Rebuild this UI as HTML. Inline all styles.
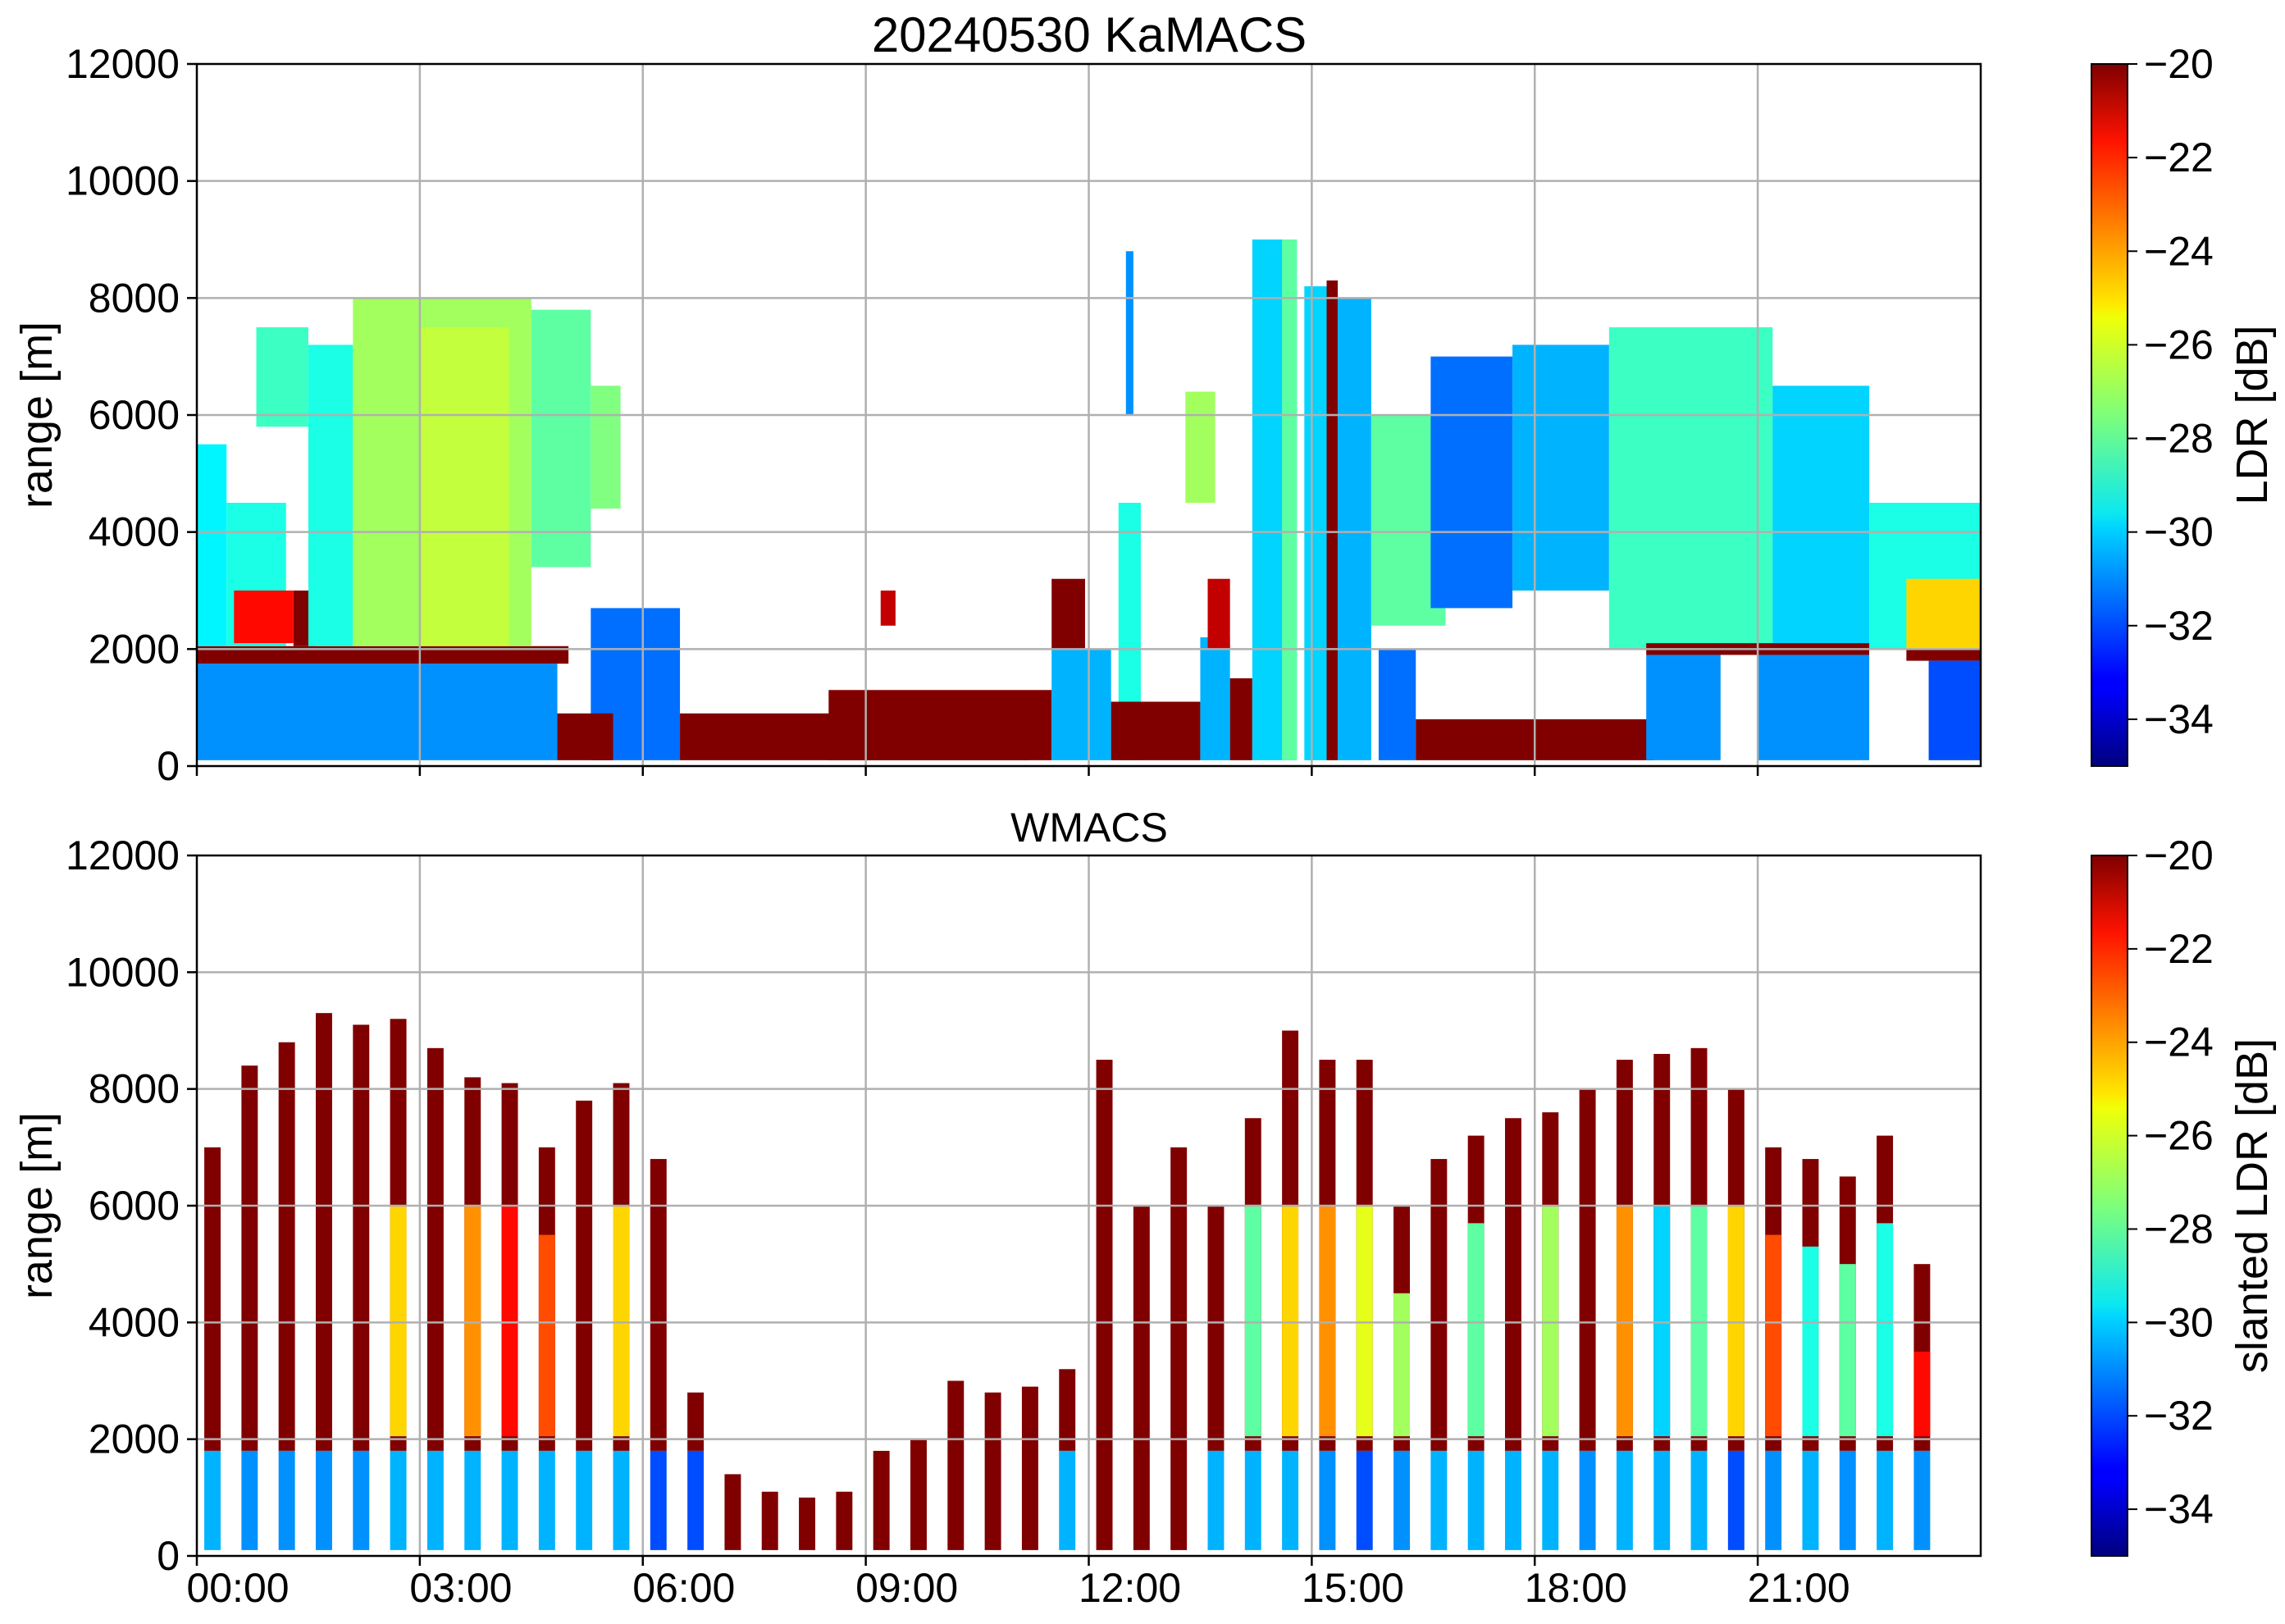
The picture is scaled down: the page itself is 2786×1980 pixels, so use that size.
<!DOCTYPE html>
<html><head><meta charset="utf-8"><title>20240530 KaMACS / WMACS</title>
<style>
html,body{margin:0;padding:0;background:#fff;}
svg{display:block;font-family:"Liberation Sans","DejaVu Sans",sans-serif;}
</style></head>
<body>
<svg id="fig" xmlns="http://www.w3.org/2000/svg" width="2786" height="1980" viewBox="0 0 2786 1980">
<defs>
<linearGradient id="jet" x1="0" y1="1" x2="0" y2="0">
<stop offset="0" stop-color="#00007f"/><stop offset="0.11" stop-color="#0000ff"/>
<stop offset="0.125" stop-color="#0000ff"/><stop offset="0.34" stop-color="#00d4ff"/>
<stop offset="0.36" stop-color="#0ce8f0"/><stop offset="0.5" stop-color="#7dff7a"/>
<stop offset="0.64" stop-color="#f0ff07"/><stop offset="0.66" stop-color="#ffe600"/>
<stop offset="0.89" stop-color="#ff1300"/><stop offset="1" stop-color="#7f0000"/>
</linearGradient>
</defs>
<g id="top-data"></g>
<g id="bot-data"></g>
<g id="axes"></g>
<text x="1328" y="63" font-size="60" text-anchor="middle">20240530 KaMACS</text>
<text x="1328" y="1026" font-size="50" text-anchor="middle">WMACS</text>
<text transform="translate(63,506) rotate(-90)" font-size="54" text-anchor="middle">range [m]</text>
<text transform="translate(63,1470) rotate(-90)" font-size="54" text-anchor="middle">range [m]</text>
<text transform="translate(2764,506) rotate(-90)" font-size="54" text-anchor="middle">LDR [dB]</text>
<text transform="translate(2764,1470) rotate(-90)" font-size="54" text-anchor="middle">slanted LDR [dB]</text>
</svg>
<script>
// ---- data ----
const yTicks = [0, 2000, 4000, 6000, 8000, 10000, 12000];
const xTickHours = [0, 3, 6, 9, 12, 15, 18, 21];
const xTickLabels = ["00:00","03:00","06:00","09:00","12:00","15:00","18:00","21:00"];
const cbTicks = [-20, -22, -24, -26, -28, -30, -32, -34];
// KaMACS echo segments: start hour, end hour, base m, top m, LDR dB
const segStart = [0,0,0,0.4,0.5,1.3,0.8,1.5,2.1,3.0,4.5,5.3,5.3,4.85,6.5,8.5,9.2,11.5,11.5,12.4,12.5,12.3,13.3,13.5,13.6,13.9,14.2,14.6,14.9,15.2,15.35,15.8,16.6,17.7,15.9,16.4,19.0,21.2,22.5,23.0,19.5,21.0,19.5,23.0,23.3];
const segEnd   = [4.85,5.0,0.4,1.2,1.3,1.6,1.5,2.1,4.5,4.2,5.3,5.7,6.5,5.6,11.2,11.5,9.4,11.95,12.3,12.7,12.6,13.5,13.7,13.9,13.9,14.2,14.8,14.8,15.2,15.35,15.8,16.8,17.7,19.0,16.4,19.6,21.2,22.5,24,24,20.5,22.5,22.5,24,24];
const segBase  = [100,1750,2050,2050,2100,2050,5800,2050,2050,2050,3400,4400,100,100,100,100,2400,2000,100,100,6000,100,4500,100,2000,100,100,100,100,100,100,2400,2700,3000,100,100,2000,2000,2000,2000,100,100,1900,1800,100];
const segTop   = [1750,2050,5500,4500,3000,3000,7500,7200,8000,7500,7800,6500,2700,900,900,1300,3000,3200,2000,4500,8800,1100,6400,2200,3200,1500,9000,9000,8200,8300,8000,6000,7000,7200,2000,800,7500,6500,4500,3200,1900,1900,2100,2000,1800];
const segVal   = [-31,-20,-29.5,-29,-22,-20,-28.5,-29,-27,-26.5,-28,-27.5,-31.5,-20,-20,-20,-21,-20,-30.5,-29,-31,-20,-27,-30.5,-21,-20,-30,-28,-30,-20,-30.5,-28,-31.5,-30.5,-31.5,-20,-28.5,-30,-29,-25,-31,-31,-20,-20,-32];
// WMACS scan stripes (every 30 min)
const stripeTop = [7000,8400,8800,9300,9100,9200,8700,8200,8100,7000,7800,8100,6800,2800,1400,1100,1000,1100,1800,2000,3000,2800,2900,3200,8500,6000,7000,6000,7500,9000,8500,8500,6000,6800,7200,7500,7600,8000,8500,8600,8700,8000,7000,6800,6500,7200,5000];
const stripeVal = [-20,-20,-20,-20,-20,-25,-20,-24,-22,-23,-20,-25,-20,-20,-20,-20,-20,-20,-20,-20,-20,-20,-20,-20,-20,-20,-20,-20,-28,-25,-24,-26,-27,-20,-28,-20,-27,-20,-24,-30,-28,-25,-23,-29,-28,-29,-22];
const stripeLow = [-30.5,-31,-31,-31,-31,-30.5,-30.5,-30.5,-30.5,-30.5,-30.5,-30.5,-32,-32,0,0,0,0,0,0,0,0,0,-30.5,0,0,0,-30.5,-30.5,-30.5,-31,-32,-31,-30.5,-30.5,-30.5,-30.5,-31,-30.5,-30.5,-30.5,-32,-31,-30.5,-31,-30.5,-31];

// ---- layout ----
const X0=240, X1=2415, T0=78, T1=934, B0=1043, B1=1897, CBX=2550, CBW=44;
const NS="http://www.w3.org/2000/svg";
const xs = h => X0 + (X1-X0)*h/24;
const ysT = r => T1 - (T1-T0)*r/12000;
const ysB = r => B1 - (B1-B0)*r/12000;
function jet(v){
  let t = (v+35)/15; t=Math.max(0,Math.min(1,t));
  const c = x => Math.round(255*Math.max(0,Math.min(1,x)));
  const r = c(Math.min(4*t-1.5, -4*t+4.5));
  const g = c(Math.min(4*t-0.5, -4*t+3.5));
  const b = c(Math.min(4*t+0.5, -4*t+2.5));
  return `rgb(${r},${g},${b})`;
}
function mk(tag, attrs, parent){
  const e=document.createElementNS(NS,tag);
  for(const k in attrs) e.setAttribute(k, attrs[k]);
  parent.appendChild(e); return e;
}
const topG=document.getElementById('top-data');
const botG=document.getElementById('bot-data');
const axG=document.getElementById('axes');

for(let i=0;i<segStart.length;i++){
  const r=mk('rect',{x:xs(segStart[i]),y:ysT(segTop[i]),width:xs(segEnd[i])-xs(segStart[i]),height:ysT(segBase[i])-ysT(segTop[i]),fill:jet(segVal[i])},topG);
  
  
}
for(let i=0;i<stripeTop.length;i++){
  const h0=0.1+0.5*i, h1=h0+0.22;
  const w=xs(h1)-xs(h0);
  const hasLow = stripeLow[i]!==0;
  const base = hasLow ? 1800 : 100;
  const up=mk('rect',{x:xs(h0),y:ysB(stripeTop[i]),width:w,height:ysB(base)-ysB(stripeTop[i]),fill:jet(-20)},botG);
  
  
  if(stripeVal[i]!==-20 && stripeTop[i]>3500){
    const coreTop=Math.min(stripeTop[i]-1500, 6000);
    const c=mk('rect',{x:xs(h0),y:ysB(coreTop),width:w,height:ysB(2050)-ysB(coreTop),fill:jet(stripeVal[i])},botG);
    
    
  }
  if(hasLow){
    const l=mk('rect',{x:xs(h0),y:ysB(1800),width:w,height:ysB(100)-ysB(1800),fill:jet(stripeLow[i])},botG);
    
    
  }
}

// axes
function panel(y0,y1,ys,label,showX){
  yTicks.forEach(v=>{
    const y=ys(v);
    if(v>0&&v<12000) mk('line',{x1:X0,x2:X1,y1:y,y2:y,stroke:'#b0b0b0','stroke-width':2.5},axG);
    mk('line',{x1:X0-12,x2:X0,y1:y,y2:y,stroke:'#000','stroke-width':2.5},axG);
    const t=mk('text',{x:X0-21,y:y+17,'font-size':50,'text-anchor':'end'},axG);
    t.textContent=String(v);
    
    
  });
  xTickHours.forEach((h,k)=>{
    const x=xs(h);
    if(h>0) mk('line',{x1:x,x2:x,y1:y0,y2:y1,stroke:'#b0b0b0','stroke-width':2.5},axG);
    mk('line',{x1:x,x2:x,y1:y1,y2:y1+12,stroke:'#000','stroke-width':2.5},axG);
    if(showX){
      const t=mk('text',{x:x+50,y:1953,'font-size':50,'text-anchor':'middle'},axG);
      t.textContent=xTickLabels[k];
      
      
    }
  });
  const f=mk('rect',{x:X0,y:y0,width:X1-X0,height:y1-y0,fill:'none',stroke:'#000','stroke-width':2.5},axG);
  
  
  const cb=mk('rect',{x:CBX,y:y0,width:CBW,height:y1-y0,fill:'url(#jet)',stroke:'#000','stroke-width':2},axG);
  
  
  cbTicks.forEach(v=>{
    const y=y0+(y1-y0)*(-20-v)/15;
    mk('line',{x1:CBX+CBW,x2:CBX+CBW+12,y1:y,y2:y,stroke:'#000','stroke-width':2},axG);
    const t=mk('text',{x:CBX+CBW+20,y:y+17,'font-size':50},axG);
    t.textContent='\u2212'+Math.abs(v);
    
    
  });
}
panel(T0,T1,ysT,'top-axes-frame',false);
panel(B0,B1,ysB,'bottom-axes-frame',true);
</script>
</body></html>
